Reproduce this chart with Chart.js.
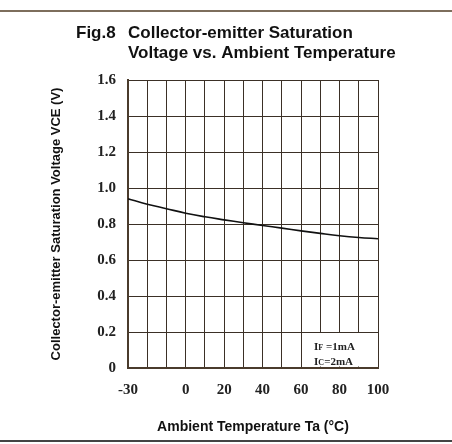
<!DOCTYPE html>
<html>
<head>
<meta charset="utf-8">
<script src="https://cdn.jsdelivr.net/npm/chart.js@4"></script>
<style>
  html, body { margin: 0; padding: 0; background: #fff; }
  #wrap { width: 452px; height: 444px; position: relative; }
</style>
</head>
<body>
<div id="wrap"><canvas id="vceChart" width="452" height="444"></canvas></div>
<script>
// data
const temps = [-30, -20, -10, 0, 10, 20, 30, 40, 50, 60, 70, 80, 90, 100];
const vce = [0.94, 0.91, 0.885, 0.86, 0.84, 0.823, 0.807, 0.792, 0.777, 0.762, 0.748, 0.735, 0.725, 0.718];
const xTickLabels = [-30, 0, 20, 40, 60, 80, 100];
const yTicks = [0, 0.2, 0.4, 0.6, 0.8, 1.0, 1.2, 1.4, 1.6];
const noteLines = [['I', 'F', ' =1mA'], ['I', 'C', '=2mA']];

const gridColor = '#3b3026';
const borderColor = '#4a3b2c';

// frame lines, heading and the IF/IC note box
const decorPlugin = {
    id: 'decor',
    beforeDatasetsDraw(chart) {
        const { ctx, scales: { x, y } } = chart;
        // clear grid inside the note box
        const l = x.getPixelForValue(60) + 1;
        const r = x.getPixelForValue(100) - 1.5;
        const t = y.getPixelForValue(0.2) + 1;
        const b = y.getPixelForValue(0) - 1.5;
        ctx.save();
        ctx.fillStyle = '#fff';
        ctx.fillRect(l, t, r - l, b - t);
        ctx.fillStyle = '#222';
        ctx.textBaseline = 'alphabetic';
        noteLines.forEach((parts, i) => {
            let px = l + 12;
            const py = t + 17 + i * 15;
            ctx.font = 'bold 11px "Liberation Serif"';
            ctx.fillText(parts[0], px, py);
            px += ctx.measureText(parts[0]).width;
            ctx.font = 'bold 8px "Liberation Serif"';
            ctx.fillText(parts[1], px, py);
            px += ctx.measureText(parts[1]).width;
            ctx.font = 'bold 11px "Liberation Serif"';
            ctx.fillText(parts[2], px, py);
        });
        ctx.restore();
    },
    afterDraw(chart) {
        const { ctx } = chart;
        ctx.save();
        ctx.strokeStyle = '#7d6e5c';
        ctx.lineWidth = 2;
        ctx.beginPath();
        ctx.moveTo(0, 11); ctx.lineTo(452, 11);
        ctx.stroke();
        ctx.strokeStyle = '#444';
        ctx.beginPath();
        ctx.moveTo(0, 441); ctx.lineTo(452, 441);
        ctx.stroke();

        ctx.fillStyle = '#111';
        ctx.textBaseline = 'alphabetic';
        ctx.font = '900 17px "Liberation Sans"';
        ctx.fillText('Fig.8', 76, 38);
        ctx.font = 'bold 17px "Liberation Sans"';
        ctx.fillText('Collector-emitter Saturation', 128, 38);
        ctx.fillText('Voltage vs. Ambient Temperature', 128, 58);
        ctx.restore();
    }
};

new Chart(document.getElementById('vceChart').getContext('2d'), {
    type: 'line',
    data: {
        datasets: [{
            data: temps.map((t, i) => ({ x: t, y: vce[i] })),
            borderColor: '#111',
            borderWidth: 1.6,
            pointRadius: 0,
            tension: 0.4,
            fill: false
        }]
    },
    options: {
        responsive: false,
        animation: false,
        layout: { padding: { top: 80, left: 49, right: 74, bottom: 8 } },
        plugins: {
            legend: { display: false },
            tooltip: { enabled: false }
        },
        scales: {
            x: {
                type: 'linear',
                min: -30,
                max: 100,
                afterFit: (s) => { s.height = 444 - 368 - 8; },
                ticks: {
                    stepSize: 10,
                    autoSkip: false,
                    maxRotation: 0,
                    padding: 13,
                    color: '#222',
                    font: { family: 'Liberation Serif', size: 15, weight: 'bold' },
                    callback: (v) => xTickLabels.includes(v) ? String(v) : ''
                },
                grid: { color: gridColor, lineWidth: 1, drawTicks: false },
                border: { color: borderColor, width: 2 },
                title: {
                    display: true,
                    text: 'Ambient Temperature Ta (°C)',
                    color: '#111',
                    font: { family: 'Liberation Sans', size: 14, weight: 'bold' },
                    padding: { top: 0, bottom: 0 }
                }
            },
            y: {
                min: 0,
                max: 1.6,
                afterFit: (s) => { s.width = 128 - 49; },
                afterBuildTicks: (s) => { s.ticks = yTicks.map(v => ({ value: v })); },
                ticks: {
                    padding: 12,
                    color: '#222',
                    font: { family: 'Liberation Serif', size: 15, weight: 'bold' },
                    callback: (v) => v === 0 ? '0' : v.toFixed(1)
                },
                grid: { color: gridColor, lineWidth: 1, drawTicks: false },
                border: { color: borderColor, width: 2 },
                title: {
                    display: true,
                    text: 'Collector-emitter Saturation Voltage VCE (V)',
                    color: '#111',
                    font: { family: 'Liberation Sans', size: 13, weight: 'bold' },
                    padding: { top: 0, bottom: 0 }
                }
            }
        }
    },
    plugins: [decorPlugin]
});
</script>
</body>
</html>
